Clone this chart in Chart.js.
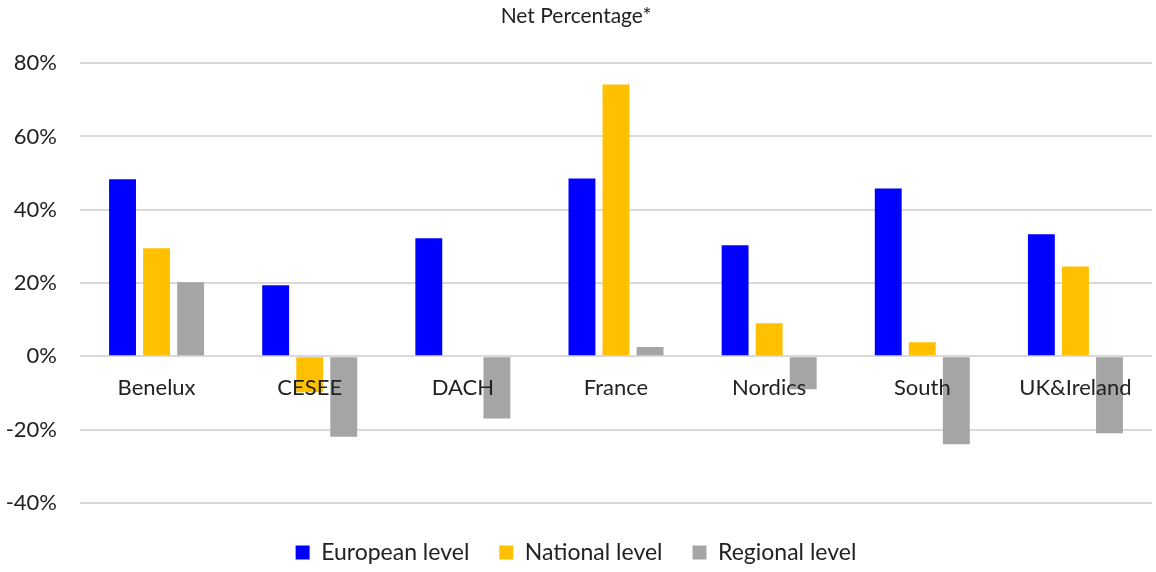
<!DOCTYPE html>
<html>
<head>
<meta charset="utf-8">
<script src="https://cdn.jsdelivr.net/npm/chart.js@4.4.0/dist/chart.umd.min.js"></script>
<style>
  html, body { margin: 0; padding: 0; background: #fff; }
  #wrap { width: 1156px; height: 572px; }
</style>
</head>
<body>
<div id="wrap"><canvas id="netChart"></canvas></div>
<script>
const regions = ["Benelux", "CESEE", "DACH", "France", "Nordics", "South", "UK&Ireland"];
const european = [48.3, 19.4, 32.2, 48.5, 30.3, 45.8, 33.3];
const national = [29.5, -9.8, 0, 74.2, 9.0, 3.8, 24.5];
const regional = [20.2, -22.0, -17.0, 2.5, -9.0, -24.0, -21.0];
const yTicks = [-40, -20, 0, 20, 40, 60, 80];

const fontFamily = "Lato, 'Noto Sans', sans-serif";
const ctx = document.getElementById("netChart").getContext('2d');

function makeSet(label, data, colour) {
    return {
        label: label,
        data: data,
        backgroundColor: colour,
        borderWidth: 0,
        categoryPercentage: 0.667,
        barPercentage: 0.79
    };
}

const netChart = new Chart(ctx, {
    type: 'bar',
    data: {
        labels: regions,
        datasets: [
            makeSet("European level", european, "#0000FF"),
            makeSet("National level", national, "#FFC000"),
            makeSet("Regional level", regional, "#A5A5A5")
        ]
    },
    options: {
        responsive: true,
        maintainAspectRatio: false,
        animation: false,
        layout: { padding: { left: 0, right: 4, top: 4, bottom: -2 } },
        plugins: {
            title: {
                display: true,
                text: "Net Percentage*",
                color: "#222",
                font: { family: fontFamily, size: 21, weight: 'normal' },
                padding: { top: 0, bottom: 34 }
            },
            legend: {
                position: 'bottom',
                // empty title just adds some room above the legend row
                title: { display: true, text: '', font: { size: 1 }, padding: { top: 7, bottom: 0 } },
                labels: {
                    color: "#222",
                    font: { family: fontFamily, size: 23 },
                    boxWidth: 14,
                    boxHeight: 14,
                    padding: 30
                }
            },
            tooltip: { enabled: false }
        },
        scales: {
            y: {
                min: -40,
                max: 80,
                afterBuildTicks: axis => { axis.ticks = yTicks.map(v => ({ value: v })); },
                afterFit: axis => { axis.width = 80; },
                ticks: {
                    color: "#222",
                    padding: 23,
                    font: { family: fontFamily, size: 22 },
                    callback: v => v + "%"
                },
                grid: { color: "#D9D9D9", lineWidth: 2, drawTicks: false },
                border: { display: false }
            },
            x: {
                position: { y: 0 },
                ticks: {
                    z: 1,
                    color: "#222",
                    padding: 18,
                    font: { family: fontFamily, size: 22 }
                },
                grid: { display: false, drawTicks: false },
                border: { display: false }
            }
        }
    }
});
</script>
</body>
</html>
